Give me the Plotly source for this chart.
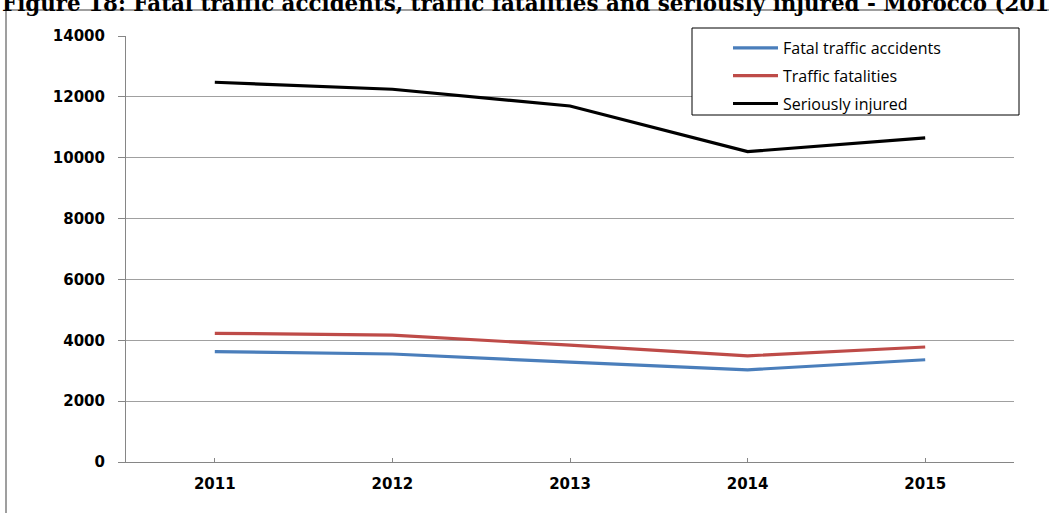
import plotly.graph_objects as go

years = ["2011", "2012", "2013", "2014", "2015"]
fatal_accidents = [3630, 3550, 3280, 3030, 3360]
fatalities = [4230, 4170, 3840, 3490, 3780]
seriously_injured = [12480, 12250, 11700, 10200, 10650]

series_names = ["Fatal traffic accidents", "Traffic fatalities", "Seriously injured"]
series_colors = ["#4A7EBB", "#BE4B48", "#000000"]
y_ticks = [0, 2000, 4000, 6000, 8000, 10000, 12000, 14000]
y_tick_labels = ["0", "2000", "4000", "6000", "8000", "10000", "12000", "14000"]

title_text = "Figure 18: Fatal traffic accidents, traffic fatalities and seriously injured - Morocco (2011-2015)"

W, H = 1049, 513
L, R, T, B = 126, 1014, 36, 462
pw, ph = R - L, B - T

def px(x):
    return (x - L) / pw

def py(y):
    return (B - y) / ph

fig = go.Figure()
for i, (name, vals, col) in enumerate(zip(series_names,
                                          [fatal_accidents, fatalities, seriously_injured],
                                          series_colors)):
    fig.add_trace(go.Scatter(x=years, y=vals, name=name, mode="lines",
                             line=dict(color=col, width=3.2),
                             legendgroup=f"g{i}"))

frame_style = dict(color="#7F7F7F", width=1.5)

fig.update_layout(
    width=W, height=H,
    margin=dict(l=L, r=W - R, t=T, b=H - B, autoexpand=False),
    paper_bgcolor="white", plot_bgcolor="white",
    showlegend=True,
    legend=dict(
        x=px(728), y=py(31), xanchor="left", yanchor="top",
        bgcolor="rgba(0,0,0,0)", borderwidth=0,
        font=dict(family="Open Sans", size=16, color="#000000"),
        itemwidth=45, tracegroupgap=4,
    ),
    xaxis=dict(
        type="category", range=[-0.5, 4.5],
        showgrid=False, showline=True, linecolor="#868686", linewidth=1,
        ticks="inside", ticklen=4, tickcolor="#868686",
        tickfont=dict(family="DejaVu Sans", size=15, color="#000000", weight="bold"),
        ticklabelstandoff=8,
    ),
    yaxis=dict(
        range=[0, 14000], tickvals=y_ticks, ticktext=y_tick_labels,
        showgrid=True, gridcolor="#A0A0A0", gridwidth=1,
        showline=True, linecolor="#868686", linewidth=1,
        ticks="outside", ticklen=7, tickcolor="#868686",
        tickfont=dict(family="DejaVu Sans", size=15, color="#000000", weight="bold"),
        ticklabelstandoff=10, zeroline=False,
    ),
    shapes=[
        dict(type="line", xref="paper", yref="paper",
             x0=px(6), x1=px(6), y0=py(520), y1=py(10),
             line=frame_style, layer="above"),
        dict(type="line", xref="paper", yref="paper",
             x0=px(6), x1=px(1060), y0=py(10), y1=py(10),
             line=frame_style, layer="above"),
        dict(type="rect", xref="paper", yref="paper",
             x0=px(692), x1=px(1019), y0=py(115), y1=py(28),
             line=dict(color="#000000", width=1), fillcolor="white", layer="above"),
    ],
    annotations=[
        dict(text="<b>" + title_text + "</b>", xref="paper", yref="paper",
             x=px(0), y=py(18), xanchor="left", yanchor="bottom", showarrow=False,
             font=dict(family="DejaVu Serif", size=21.4, color="#000000")),
    ],
)

fig.write_html("out.html")
